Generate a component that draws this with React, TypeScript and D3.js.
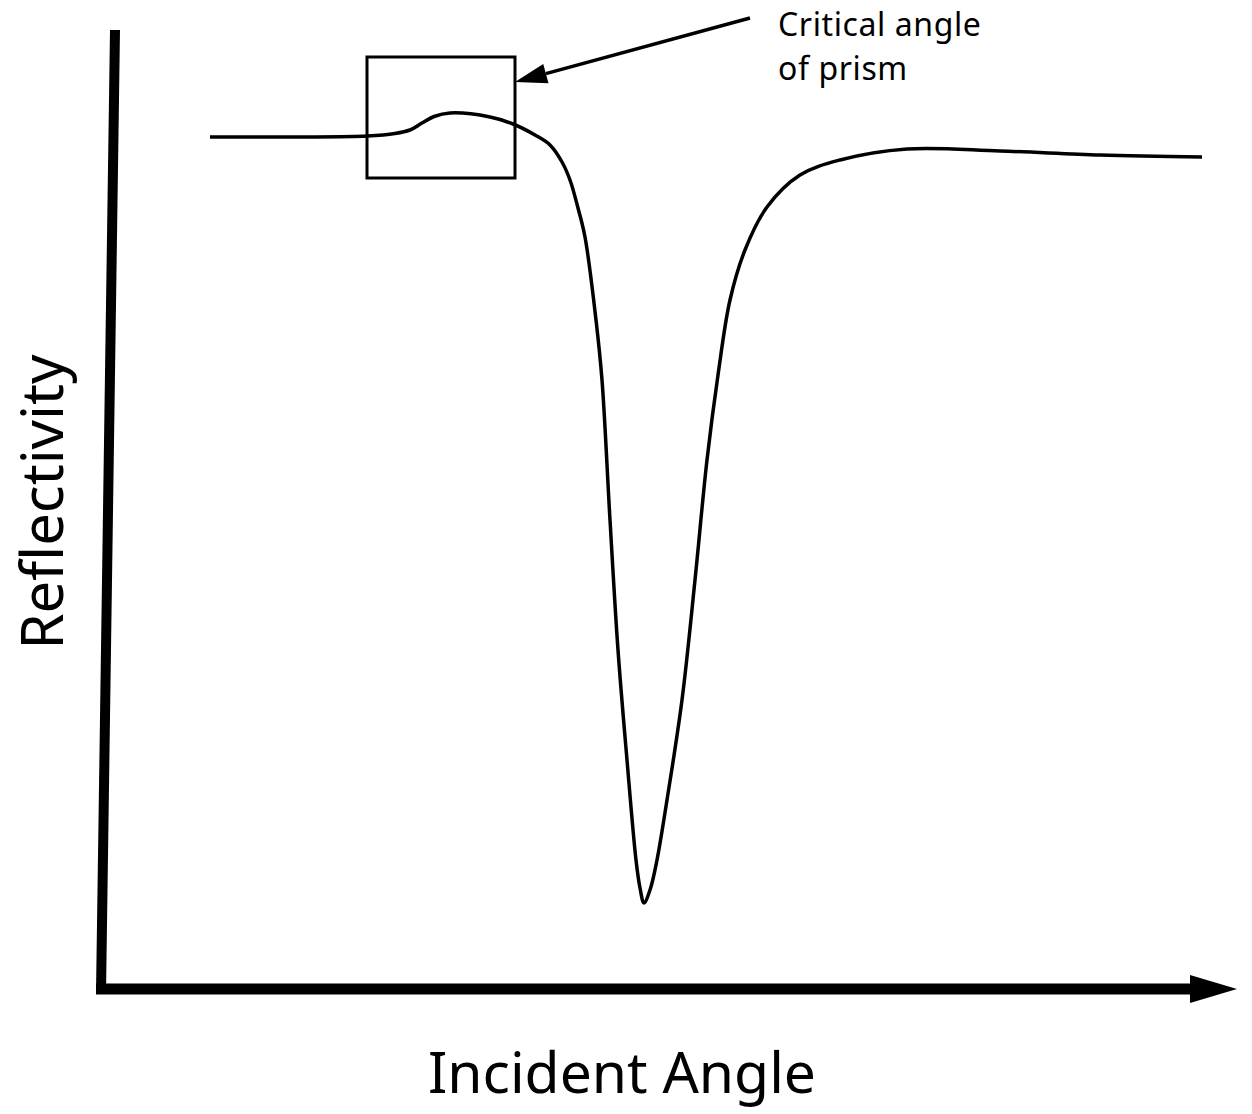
import React from "react";
import * as d3 from "d3";

// Incident angle (arbitrary units) and reflectivity (%)
const angle = [11, 20, 26.7, 29.5, 31, 32.2, 33.4, 35, 39, 41.3, 43.5, 45, 46.2, 47, 47.8, 48.5, 49.6, 50.2, 51, 51.8, 52.7, 53.6, 54, 54.4, 55, 55.7, 56.7, 58.2, 59.5, 60.7, 61.8, 63, 64.5, 66.7, 70, 74, 80.7, 90, 100, 110.2];
const reflectivity = [85.3, 85.3, 85.4, 85.65, 86.0, 86.7, 87.35, 87.7, 87.3, 86.6, 85.5, 84.5, 82.8, 81.0, 78.2, 75.3, 67.0, 61.0, 47.0, 34.0, 23.0, 13.0, 10.2, 8.7, 10.0, 13.0, 19.0, 29.0, 41.0, 53.0, 61.5, 69.0, 74.0, 78.3, 81.5, 83.0, 84.1, 83.9, 83.5, 83.3];

// Annotation box (critical angle of prism)
const boxAngle = [26.7, 41.5];
const boxRefl = [81.2, 93.3];
const arrowFrom = [65, 97.2];
const arrowTo = [41.5, 90.8];
const annotationLines = ["Critical angle", "of prism"];
const xLabel = "Incident Angle";
const yLabel = "Reflectivity";

const W = 1252;
const H = 1114;

export default function App() {
  const x = d3.scaleLinear().domain([0, 114]).range([100, 1240]);
  const y = d3.scaleLinear().domain([0, 96]).range([990, 30]);

  const pts: [number, number][] = angle.map((a, i) => [a, reflectivity[i]]);
  const line = d3
    .line<[number, number]>()
    .x((d) => x(d[0]))
    .y((d) => y(d[1]))
    .curve(d3.curveCatmullRom.alpha(0.5));

  // axes
  const yAxisTop = [x(1.5), y(96)];
  const yAxisBot = [x(0.1), y(-0.3)];
  const xAxisStart = [x(-0.4), y(0.2)];
  const xArrowBase = x(109);
  const xArrowTip = x(113.7);
  const xAxisY = y(0.1);

  // annotation arrow
  const ax0 = x(arrowFrom[0]);
  const ay0 = y(arrowFrom[1]);
  const ax1 = x(arrowTo[0]);
  const ay1 = y(arrowTo[1]);
  const ang = Math.atan2(ay1 - ay0, ax1 - ax0);
  const headLen = 32;
  const headW = 10;
  const bx = ax1 - headLen * Math.cos(ang);
  const by = ay1 - headLen * Math.sin(ang);
  const px = -Math.sin(ang);
  const py = Math.cos(ang);
  const head = `M${ax1},${ay1}L${bx + headW * px},${by + headW * py}L${bx - headW * px},${by - headW * py}Z`;

  const font = "'Noto Sans', 'Open Sans', sans-serif";

  return (
    <svg
      width={W}
      height={H}
      style={{ position: "absolute", left: 0, top: 0, background: "#fff" }}
    >
      <rect x={0} y={0} width={W} height={H} fill="#fff" />
      {/* y axis */}
      <line
        x1={yAxisTop[0]}
        y1={yAxisTop[1]}
        x2={yAxisBot[0]}
        y2={yAxisBot[1]}
        stroke="#000"
        strokeWidth={10}
      />
      {/* x axis */}
      <line
        x1={xAxisStart[0]}
        y1={xAxisY}
        x2={xArrowBase + 2}
        y2={xAxisY}
        stroke="#000"
        strokeWidth={11}
      />
      <path
        d={`M${xArrowTip},${xAxisY}L${xArrowBase},${xAxisY - 14}L${xArrowBase},${xAxisY + 14}Z`}
        fill="#000"
      />
      {/* curve */}
      <path d={line(pts) || ""} fill="none" stroke="#000" strokeWidth={3.5} strokeLinejoin="round" />
      {/* box */}
      <rect
        x={x(boxAngle[0])}
        y={y(boxRefl[1])}
        width={x(boxAngle[1]) - x(boxAngle[0])}
        height={y(boxRefl[0]) - y(boxRefl[1])}
        fill="none"
        stroke="#000"
        strokeWidth={3}
      />
      {/* annotation arrow */}
      <line x1={ax0} y1={ay0} x2={bx} y2={by} stroke="#000" strokeWidth={3.5} />
      <path d={head} fill="#000" />
      {annotationLines.map((t, i) => (
        <text
          key={t}
          x={x(67.8)}
          y={36 + i * 44}
          fontFamily={font}
          fontSize={32}
          letterSpacing={0.6}
          fill="#000"
        >
          {t}
        </text>
      ))}
      <text
        x={622}
        y={1093}
        textAnchor="middle"
        fontFamily={font}
        fontSize={57}
        fill="#000"
      >
        {xLabel}
      </text>
      <text
        transform={`translate(63,502) rotate(-90)`}
        textAnchor="middle"
        fontFamily={font}
        fontSize={58}
        fill="#000"
      >
        {yLabel}
      </text>
    </svg>
  );
}
